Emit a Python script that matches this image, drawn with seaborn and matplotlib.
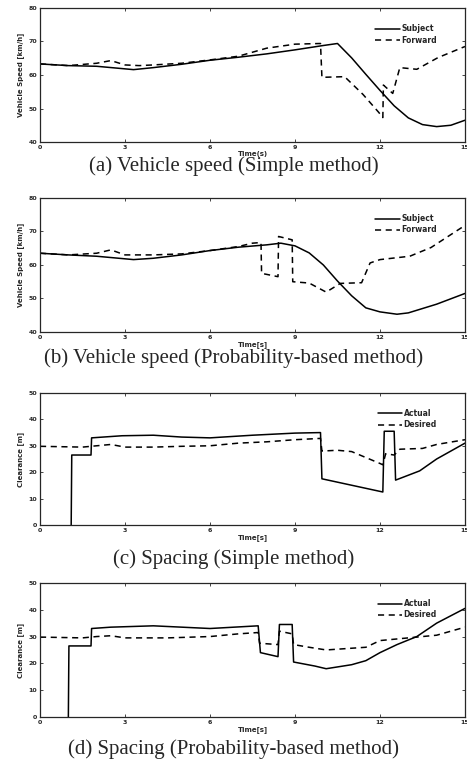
import pandas as pd
import matplotlib.pyplot as plt
import seaborn as sns

# (a) vehicle speed, simple method
a_sub_t = [0, 1, 2, 3.3, 4, 5, 6, 7, 8, 9, 10, 10.5, 11, 11.5, 12, 12.5, 13, 13.5, 14, 14.5, 15]
a_sub_v = [63.3, 62.8, 62.6, 61.6, 62.2, 63.2, 64.4, 65.3, 66.3, 67.5, 68.8, 69.4, 65.1, 60.2, 55.4, 50.8, 47.2, 45.2, 44.6, 45.0, 46.5]
a_fwd_t = [0, 1, 2, 2.5, 3, 3.5, 4, 5, 6, 7, 8, 9, 9.9, 9.95, 10.75, 11.4, 11.95, 12.1, 12.12, 12.45, 12.7, 13.3, 14.05, 15]
a_fwd_v = [63.3, 62.8, 63.5, 64.3, 63.0, 62.8, 63.0, 63.5, 64.5, 65.6, 68.0, 69.2, 69.4, 59.3, 59.5, 54.2, 48.9, 47.3, 57.0, 54.5, 62.2, 61.7, 65.2, 68.5]

# (b) vehicle speed, probability-based method
b_sub_t = [0, 1, 2, 3.3, 4, 5, 6, 7, 8, 8.5, 9, 9.5, 10, 10.5, 11, 11.5, 12, 12.6, 13, 14, 15]
b_sub_v = [63.5, 63.0, 62.6, 61.6, 62.0, 63.0, 64.3, 65.3, 66.0, 66.5, 65.7, 63.6, 60.0, 55.2, 50.8, 47.2, 46.0, 45.3, 45.7, 48.3, 51.5]
b_fwd_t = [0, 1, 2, 2.5, 3, 4, 5, 6, 7, 7.5, 7.8, 7.82, 8.4, 8.42, 8.9, 8.92, 9.5, 10.1, 10.6, 11.35, 11.65, 12, 13.05, 13.8, 15]
b_fwd_v = [63.5, 63.0, 63.5, 64.5, 63.0, 63.0, 63.3, 64.3, 65.5, 66.5, 66.7, 57.5, 56.5, 68.5, 67.5, 55.0, 54.6, 51.9, 54.5, 54.7, 60.6, 61.6, 62.6, 65.2, 71.8]

# (c) spacing, simple method
c_act_t = [1.1, 1.12, 1.8, 1.82, 2.9, 4, 5, 6, 7.5, 9, 9.9, 9.95, 12.1, 12.15, 12.5, 12.55, 13.4, 14, 15]
c_act_v = [0, 26.5, 26.5, 33, 33.8, 34, 33.3, 33, 34, 34.8, 35, 17.5, 12.5, 35.5, 35.5, 17, 20.5, 25, 31]
c_des_t = [0, 1.5, 2, 2.5, 3, 4, 5, 6, 7, 8, 9, 9.9, 9.95, 10.5, 11, 12, 12.1, 12.2, 12.5, 12.7, 13.5, 14, 15]
c_des_v = [29.8, 29.5, 30, 30.5, 29.5, 29.5, 29.8, 30, 31, 31.5, 32.3, 32.8, 28, 28.3, 27.8, 23.3, 22.8, 27, 26.5, 28.7, 29, 30.5, 32.3]

# (d) spacing, probability-based method
d_act_t = [1.0, 1.02, 1.8, 1.82, 2.5, 4, 6, 7.7, 7.78, 8.4, 8.45, 8.9, 8.95, 9.7, 10.1, 11, 11.5, 12, 12.6, 13.3, 14, 15]
d_act_v = [0, 26.5, 26.5, 33, 33.5, 34, 33, 34, 24, 22.5, 34.5, 34.5, 20.5, 19, 18, 19.5, 21, 24, 27, 30, 35, 40.5]
d_des_t = [0, 1.5, 2, 2.5, 3, 4.5, 6, 7, 7.7, 7.75, 8.4, 8.45, 8.9, 8.95, 9.5, 10.1, 11.5, 12, 13, 14, 15]
d_des_v = [29.8, 29.5, 30, 30.3, 29.5, 29.5, 30, 31, 31.5, 27.5, 27, 32, 31, 27, 26, 25, 26, 28.5, 29.5, 30.5, 33.5]

sns.set_style("ticks")
plt.rcParams['font.family'] = ['DejaVu Sans']

fig = plt.figure(figsize=(4.67, 7.66), dpi=100)

panels = [
    dict(rect=[0.0857, 0.8146, 0.91, 0.175], ylim=(40, 80), yticks=[40, 50, 60, 70, 80],
         ylabel='Vehicle Speed [km/h]', xlabel='Time(s)', names=('Subject', 'Forward'),
         series=(a_sub_t, a_sub_v, a_fwd_t, a_fwd_v),
         caption='(a) Vehicle speed (Simple method)', cap_y=0.7835),
    dict(rect=[0.0857, 0.5666, 0.91, 0.175], ylim=(40, 80), yticks=[40, 50, 60, 70, 80],
         ylabel='Vehicle Speed [km/h]', xlabel='Time[s]', names=('Subject', 'Forward'),
         series=(b_sub_t, b_sub_v, b_fwd_t, b_fwd_v),
         caption='(b) Vehicle speed (Probability-based method)', cap_y=0.532),
    dict(rect=[0.0857, 0.3146, 0.91, 0.1724], ylim=(0, 50), yticks=[0, 10, 20, 30, 40, 50],
         ylabel='Clearance [m]', xlabel='Time[s]', names=('Actual', 'Desired'),
         series=(c_act_t, c_act_v, c_des_t, c_des_v),
         caption='(c) Spacing (Simple method)', cap_y=0.270),
    dict(rect=[0.0857, 0.064, 0.91, 0.175], ylim=(0, 50), yticks=[0, 10, 20, 30, 40, 50],
         ylabel='Clearance [m]', xlabel='Time[s]', names=('Actual', 'Desired'),
         series=(d_act_t, d_act_v, d_des_t, d_des_v),
         caption='(d) Spacing (Probability-based method)', cap_y=0.0215),
]

for p in panels:
    ax = fig.add_axes(p['rect'])
    t1, v1, t2, v2 = p['series']
    df1 = pd.DataFrame({'t': t1, 'v': v1})
    df2 = pd.DataFrame({'t': t2, 'v': v2})
    sns.lineplot(x='t', y='v', data=df1, estimator=None, sort=False, color='black',
                 linewidth=1.1, label=p['names'][0], ax=ax)
    sns.lineplot(x='t', y='v', data=df2, estimator=None, sort=False, color='black',
                 linewidth=1.1, dashes=False, label=p['names'][1], ax=ax)
    ax.lines[-1].set_dashes([4, 3])
    ax.set_xlim(0, 15)
    ax.set_ylim(*p['ylim'])
    ax.set_xticks([0, 3, 6, 9, 12, 15])
    ax.set_yticks(p['yticks'])
    ax.tick_params(direction='in', length=2, width=0.6, labelsize=4.5, pad=2,
                   top=True, right=True)
    for lab in ax.get_xticklabels() + ax.get_yticklabels():
        lab.set_fontweight('bold')
    for s in ax.spines.values():
        s.set_linewidth(0.9)
    ax.set_xlabel(p['xlabel'], fontsize=5, fontweight='bold', labelpad=1)
    ax.set_ylabel(p['ylabel'], fontsize=5, fontweight='bold', labelpad=3)
    ax.legend(loc='upper right', bbox_to_anchor=(0.95, 0.93), frameon=False,
              handlelength=3.2, handletextpad=0.2, labelspacing=0.3,
              prop={'weight': 'bold', 'size': 5.5})
    fig.text(0.5, p['cap_y'], p['caption'], ha='center', va='center',
             family='Liberation Serif', fontsize=15)

fig.savefig('out.png', dpi=100, facecolor='white')
